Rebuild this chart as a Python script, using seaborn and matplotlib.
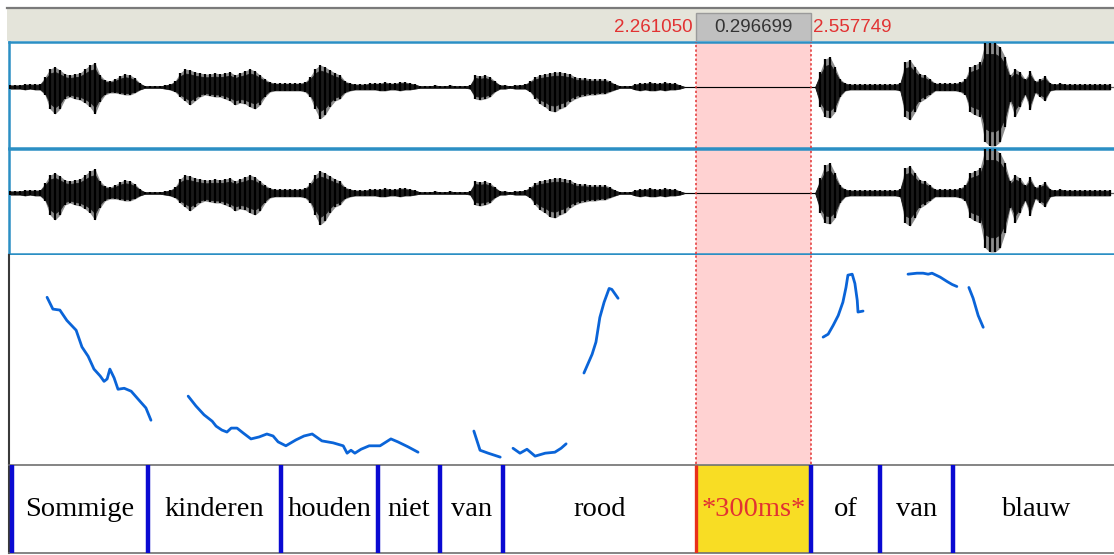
import matplotlib
matplotlib.use("Agg")
import matplotlib.pyplot as plt
import numpy as np
import pandas as pd
import seaborn as sns
from matplotlib.patches import Rectangle

W, H = 1114, 555
PX_PER_S = 387.6

# selection and visible window (seconds)
SEL_START = 2.261050
SEL_END = 2.557749
SEL_DUR = 0.296699
VIEW_START = 0.4888
VIEW_END = 3.3394

WAVE_START = 0.4914
WAVE_STEP = 0.0129
WAVE_UP = [
    2, 2, 2, 3, 3, 3, 3, 10, 18, 20,
    17, 13, 12, 13, 14, 18, 22, 24, 12, 7,
    6, 8, 11, 13, 12, 9, 4, 1, 1, 1,
    1, 2, 3, 6, 14, 18, 17, 15, 14, 13,
    13, 14, 13, 14, 15, 12, 14, 16, 18, 16,
    12, 8, 5, 4, 4, 4, 4, 4, 4, 5,
    10, 18, 22, 20, 17, 14, 12, 6, 4, 3,
    3, 3, 4, 4, 4, 5, 4, 4, 5, 5,
    4, 3, 1, 1, 1, 2, 1, 1, 2, 1,
    1, 1, 2, 12, 11, 12, 10, 6, 2, 2,
    1, 2, 2, 3, 6, 10, 12, 13, 14, 15,
    15, 14, 13, 10, 9, 9, 8, 8, 8, 8,
    6, 3, 1, 1, 1, 3, 4, 4, 5, 4,
    4, 5, 4, 4, 2, 0, 0, 0, 0, 0,
    0, 0, 0, 0, 0, 0, 0, 0, 0, 0,
    0, 0, 0, 0, 0, 0, 0, 0, 0, 0,
    0, 0, 15, 28, 30, 20, 8, 4, 3, 3,
    3, 3, 3, 3, 3, 3, 3, 3, 4, 25,
    27, 20, 13, 12, 8, 4, 4, 4, 4, 4,
    5, 8, 20, 22, 25, 44, 44, 44, 40, 30,
    12, 18, 15, 8, 16, 6, 8, 11, 4, 3,
    4, 3, 3, 3, 3, 3, 3, 3, 3, 3,
    3,
]
WAVE_DOWN = [
    2, 2, 2, 3, 2, 3, 3, 8, 22, 27,
    22, 12, 10, 12, 13, 16, 20, 27, 15, 8,
    6, 6, 7, 8, 8, 6, 3, 1, 1, 1,
    1, 2, 3, 5, 10, 14, 18, 14, 10, 8,
    9, 10, 10, 12, 14, 18, 16, 17, 20, 22,
    18, 10, 5, 4, 4, 4, 4, 4, 4, 5,
    10, 22, 32, 28, 20, 14, 12, 6, 4, 3,
    3, 3, 3, 3, 4, 4, 3, 3, 4, 3,
    3, 2, 1, 1, 1, 1, 1, 1, 1, 1,
    1, 1, 2, 12, 13, 12, 10, 5, 2, 2,
    1, 2, 2, 2, 5, 12, 17, 20, 24, 25,
    22, 20, 15, 12, 10, 9, 8, 8, 7, 7,
    5, 3, 1, 1, 1, 3, 4, 3, 4, 4,
    3, 4, 3, 3, 2, 0, 0, 0, 0, 0,
    0, 0, 0, 0, 0, 0, 0, 0, 0, 0,
    0, 0, 0, 0, 0, 0, 0, 0, 0, 0,
    0, 0, 20, 30, 31, 25, 10, 4, 3, 3,
    3, 3, 3, 3, 3, 3, 3, 3, 4, 30,
    33, 25, 15, 12, 8, 4, 4, 4, 4, 4,
    5, 8, 25, 28, 30, 55, 59, 59, 55, 40,
    15, 30, 20, 8, 23, 6, 10, 14, 4, 3,
    3, 3, 3, 3, 3, 3, 3, 3, 3, 3,
    3,
]

# pitch contour (s, Hz), one list per voiced stretch
PITCH_TIMES = [
    [0.587, 0.602, 0.620, 0.638, 0.662, 0.677, 0.693, 0.708, 0.724, 0.734,
     0.742, 0.749, 0.760, 0.770, 0.786, 0.804, 0.824, 0.842, 0.855],
    [0.951, 0.971, 0.992, 1.013, 1.023, 1.038, 1.051, 1.062, 1.077, 1.093,
     1.113, 1.134, 1.154, 1.170, 1.183, 1.203, 1.229, 1.250, 1.271, 1.296,
     1.325, 1.351, 1.361, 1.371, 1.381, 1.397, 1.418, 1.446, 1.474, 1.492,
     1.518, 1.544],
    [1.688, 1.704, 1.725, 1.756],
    [1.789, 1.807, 1.825, 1.846, 1.872, 1.897, 1.913, 1.926],
    [1.972, 1.993, 2.003, 2.013, 2.024, 2.037, 2.044, 2.060],
    [2.589, 2.602, 2.615, 2.628, 2.640, 2.648, 2.653, 2.664, 2.671, 2.677,
     2.679, 2.692],
    [2.808, 2.831, 2.847, 2.860, 2.870, 2.891, 2.909, 2.922, 2.934],
    [2.965, 2.976, 2.989, 3.002],
]
PITCH_HZ = [
    [414, 390, 388, 367, 347, 313, 294, 268, 254, 243,
     248, 268, 250, 227, 229, 223, 205, 189, 164],
    [213, 193, 175, 162, 152, 144, 140, 148, 148, 138,
     126, 130, 136, 132, 120, 112, 124, 132, 136, 122,
     118, 112, 97, 103, 97, 105, 112, 112, 126, 120,
     110, 99],
    [142, 103, 97, 89],
    [107, 97, 105, 91, 97, 99, 107, 116],
    [260, 298, 323, 373, 404, 432, 430, 412],
    [333, 339, 357, 377, 404, 434, 459, 461, 442, 408,
     384, 386],
    [461, 463, 463, 461, 463, 455, 446, 440, 436],
    [434, 412, 377, 353],
]

# word tier
WORD_BOUNDS = [0.4965, 0.847, 1.191, 1.441, 1.601, 1.763, SEL_START, SEL_END,
               2.736, 2.924, 3.35]
WORD_LABELS = ["Sommige", "kinderen", "houden", "niet", "van", "rood",
               "*300ms*", "of", "van", "blauw"]

PINK = "#FFD2D2"
SEL_RED = "#E23232"
BORDER = "#2B8FC4"


def px_rect(x0, y0, x1, y1):
    return [x0 / W, 1 - y1 / H, (x1 - x0) / W, (y1 - y0) / H]


def clean(ax):
    ax.set_xticks([])
    ax.set_yticks([])
    ax.set_xlabel("")
    ax.set_ylabel("")
    ax.set_xlim(VIEW_START, VIEW_END)


def mark_selection(ax):
    ax.axvspan(SEL_START, SEL_END, color=PINK, lw=0, zorder=0)
    for t in (SEL_START, SEL_END):
        ax.axvline(t, color=SEL_RED, lw=1.1, ls=(0, (1.5, 1.5)), zorder=5)


def draw_channel(ax, top):
    t = WAVE_START + WAVE_STEP * np.arange(len(WAVE_UP))
    up = np.array(WAVE_UP, dtype=float)
    down = -np.array(WAVE_DOWN, dtype=float)
    mark_selection(ax)
    ax.axhline(0, color="#606060", lw=0.9, zorder=1)
    ax.fill_between(t, down * 0.75, up * 0.75, color="black", lw=0.6, zorder=2)
    ax.fill_between(t, down, up, color="#303030", alpha=0.55, lw=0, zorder=2)
    ax.vlines(t, down, up, color="black", lw=1.6, zorder=3)
    ax.set_ylim(-61, top)
    clean(ax)
    for side in ("top", "bottom", "left"):
        ax.spines[side].set_color(BORDER)
        ax.spines[side].set_linewidth(1.8)
    ax.spines["right"].set_visible(False)


sns.set_theme(style="white")
plt.rcParams["font.family"] = ["Liberation Sans", "DejaVu Sans"]

fig = plt.figure(figsize=(W / 100, H / 100), dpi=100)
fig.patch.set_facecolor("white")

# top bar with the selection readout
ax_bar = fig.add_axes(px_rect(7, 8, 1114, 41))
ax_bar.set_facecolor("#E4E4DA")
ax_bar.set_xlim(VIEW_START - 2 / PX_PER_S, VIEW_END)
ax_bar.set_ylim(0, 33)
ax_bar.set_xticks([])
ax_bar.set_yticks([])
for side in ("left", "right", "bottom"):
    ax_bar.spines[side].set_visible(False)
ax_bar.spines["top"].set_color("#7A7A7A")
ax_bar.spines["top"].set_linewidth(1.6)
ax_bar.add_patch(Rectangle((SEL_START, 0), SEL_END - SEL_START, 28,
                           facecolor="#C0C0C0", edgecolor="#9A9A9A", lw=1))
ax_bar.text(SEL_START - 3 / PX_PER_S, 14, f"{SEL_START:.6f}", color=SEL_RED,
            fontsize=13.5, ha="right", va="center")
ax_bar.text((SEL_START + SEL_END) / 2, 14, f"{SEL_DUR:.6f}", color="#333333",
            fontsize=13.5, ha="center", va="center")
ax_bar.text(SEL_END + 2 / PX_PER_S, 14, f"{SEL_END:.6f}", color=SEL_RED,
            fontsize=13.5, ha="left", va="center")

# two waveform channels
ax_ch1 = fig.add_axes(px_rect(9, 42, 1114, 148))
draw_channel(ax_ch1, 45)
ax_ch2 = fig.add_axes(px_rect(9, 149, 1114, 254))
draw_channel(ax_ch2, 44)

# pitch panel
ax_f0 = fig.add_axes(px_rect(9, 255, 1114, 464))
mark_selection(ax_f0)
pitch_df = pd.DataFrame({
    "seg": [i for i, ts in enumerate(PITCH_TIMES) for _ in ts],
    "time": [t for ts in PITCH_TIMES for t in ts],
    "hz": [f for fs in PITCH_HZ for f in fs],
})
sns.lineplot(data=pitch_df, x="time", y="hz", units="seg", estimator=None,
             sort=False, color="#0A64D8", lw=2.0, ax=ax_f0, zorder=4)
ax_f0.set_ylim(75, 500)
clean(ax_f0)
for side in ("top", "right", "bottom"):
    ax_f0.spines[side].set_visible(False)
ax_f0.spines["left"].set_color("#3A3A3A")
ax_f0.spines["left"].set_linewidth(1.5)

# word tier
ax_tier = fig.add_axes(px_rect(9, 465, 1114, 553))
ax_tier.axvspan(SEL_START, SEL_END, color="#F8DD24", lw=0, zorder=0)
blue_bounds = [b for b in WORD_BOUNDS[:-1] if b != SEL_START]
ax_tier.vlines(blue_bounds, 0, 1, color="#0A0AD2", lw=3.2, zorder=3)
ax_tier.vlines([SEL_START], 0, 1, color="#E8301A", lw=2.4, zorder=3)
for a, b, word in zip(WORD_BOUNDS[:-1], WORD_BOUNDS[1:], WORD_LABELS):
    ax_tier.text((a + b) / 2, 0.5, word, ha="center", va="center",
                 fontsize=20.5, family=["Liberation Serif", "DejaVu Serif"],
                 color=SEL_RED if word.startswith("*") else "black", zorder=4)
ax_tier.set_ylim(0, 1)
clean(ax_tier)
ax_tier.spines["right"].set_visible(False)
for side in ("top", "bottom"):
    ax_tier.spines[side].set_color("#707070")
    ax_tier.spines[side].set_linewidth(1.2)
ax_tier.spines["left"].set_color("#3A3A3A")
ax_tier.spines["left"].set_linewidth(1.5)

fig.savefig("out.png", dpi=100)
